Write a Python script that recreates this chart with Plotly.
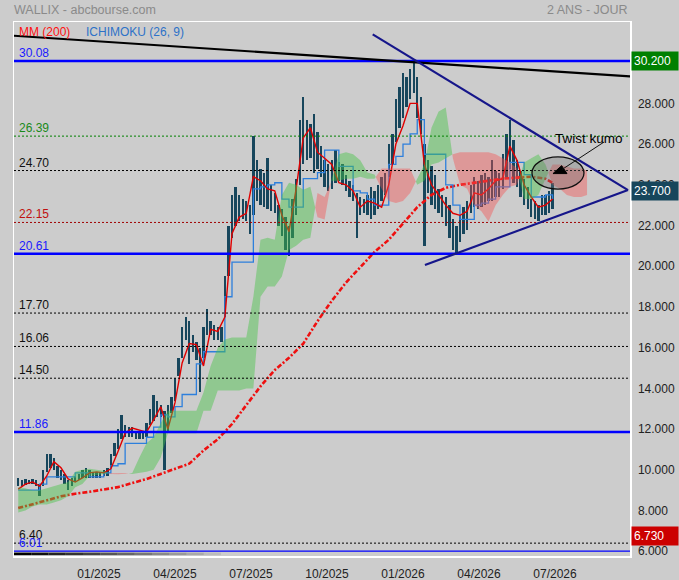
import plotly.graph_objects as go

# ---------------- data (x = trading-day index, 0 = first session of 01/2025) ----------------
tick_index = [0, 64, 128, 192, 256, 320, 384]
tick_labels = ["01/2025", "04/2025", "07/2025", "10/2025", "01/2026", "04/2026", "07/2026"]
price_ticks = [6, 8, 10, 12, 14, 16, 18, 20, 22, 24, 26, 28]

price_x = list(range(-68, 383, 3))
price_low = [9.2, 9.2, 9.25, 9.3, 9.3, 9.2, 8.7, 9.2, 9.9, 10.1,
             10.0, 9.6, 9.5, 9.3, 9.0, 9.2, 9.4, 9.5, 9.6, 9.6,
             9.6, 9.6, 9.6, 9.6, 9.7, 9.7, 10.1, 10.7, 11.0, 11.5,
             11.6, 11.6, 11.6, 11.5, 11.5, 11.5, 11.6, 12.2, 12.4, 12.6,
             12.6, 10.0, 11.8, 12.8, 13.4, 14.6, 15.5, 16.4, 15.2, 15.8,
             15.4, 13.8, 15.5, 16.6, 16.6, 16.4, 16.4, 16.3, 17.5, 19.5,
             21.4, 22.0, 22.2, 22.3, 22.2, 21.6, 22.5, 23.2, 23.0, 22.9,
             22.8, 22.7, 22.6, 22.0, 21.5, 20.8, 20.5, 21.4, 22.5, 24.0,
             25.0, 25.2, 25.3, 24.6, 24.8, 24.4, 23.9, 23.7, 23.8, 24.1,
             24.2, 24.0, 23.7, 23.4, 23.2, 21.4, 22.5, 22.6, 22.5, 22.3,
             22.5, 22.8, 23.2, 23.5, 24.4, 25.0, 26.1, 26.8, 27.3, 27.8,
             28.2, 28.5, 27.3, 26.5, 21.0, 23.6, 23.0, 22.8, 22.6, 22.4,
             22.0, 21.4, 20.8, 20.6, 21.2, 21.6, 21.8, 22.6, 22.9, 22.8,
             22.9, 23.0, 23.2, 23.2, 23.4, 23.4, 23.8, 24.3, 24.8, 24.1,
             23.9, 23.4, 23.0, 22.8, 22.4, 22.3, 22.2, 22.5, 22.5, 22.6,
             22.8]
price_high = [9.6, 9.5, 9.55, 9.5, 9.55, 9.5, 9.3, 10.0, 10.8, 10.8,
              10.6, 10.2, 10.0, 9.8, 9.5, 9.6, 9.7, 9.8, 10.0, 10.1,
              10.0, 9.9, 9.9, 9.9, 10.0, 10.1, 10.8, 11.3, 12.0, 12.7,
              12.2, 12.1, 12.1, 11.9, 11.9, 11.8, 12.3, 13.0, 13.7, 13.4,
              13.2, 12.9, 13.2, 13.6, 14.5, 15.5, 17.0, 17.5, 17.3, 16.6,
              16.3, 16.0, 17.0, 17.9, 17.3, 17.1, 17.0, 17.0, 19.5, 22.0,
              23.5, 23.9, 23.5, 23.3, 23.2, 23.0, 26.4, 25.2, 24.8, 24.6,
              25.3, 24.0, 23.6, 23.0, 22.8, 22.4, 22.0, 23.3, 24.3, 27.2,
              28.3, 27.2, 27.0, 27.5, 26.6, 25.9, 25.2, 25.0, 25.2, 25.7,
              25.1, 25.0, 24.5, 24.2, 24.0, 23.6, 23.4, 23.3, 23.5, 23.9,
              23.7, 24.0, 24.4, 24.6, 26.0, 26.5, 28.2, 28.8, 29.5, 29.3,
              29.7, 30.0, 29.3, 28.3, 26.0, 25.2, 24.9, 24.5, 23.8, 23.5,
              23.4, 23.0, 22.3, 22.0, 22.5, 22.9, 23.2, 24.0, 24.4, 24.2,
              24.5, 24.6, 24.4, 25.2, 24.7, 24.6, 25.5, 26.5, 27.2, 26.2,
              25.2, 24.7, 24.3, 23.9, 23.3, 23.2, 23.0, 23.5, 23.5, 23.7,
              24.1]

ichi_x = list(range(-68, 383, 6))
tenkan = [9.05, 9.3, 9.4, 9.2, 9.7, 10.4, 10.1, 9.55, 9.4, 9.6,
          9.85, 9.9, 9.85, 10.05, 10.9, 11.8, 12.05, 11.95, 11.85, 12.45,
          13.1, 12.0, 13.3, 15.25, 16.2, 16.15, 15.1, 16.9, 16.8, 17.5,
          21.6, 22.4, 22.6, 24.4, 24.2, 23.8, 23.7, 22.5, 21.7, 23.8,
          26.3, 26.8, 25.6, 25.3, 25.0, 24.1, 24.0, 23.7, 22.9, 23.2,
          23.1, 22.9, 24.0, 26.0, 26.9, 28.0, 28.0, 25.0, 24.0, 23.5,
          23.0, 22.6, 22.5, 22.7, 23.6, 23.5, 23.8, 24.2, 24.3, 25.9,
          25.2, 24.0, 23.4, 22.9, 23.0, 23.3]
kijun = [9.0, 9.0, 9.0, 9.3, 9.65, 9.65, 9.65, 9.65, 9.85, 9.85,
         9.65, 9.65, 9.85, 10.2, 10.3, 11.3, 11.3, 11.3, 11.6, 12.1,
         12.7, 12.6, 13.1, 13.7, 13.7, 15.2, 15.8, 15.8, 15.8, 18.5,
         20.2, 20.2, 20.2, 23.8, 23.9, 24.0, 24.1, 23.3, 22.9, 22.9,
         24.3, 24.3, 24.6, 25.7, 25.7, 24.9, 24.9, 23.7, 23.6, 23.3,
         23.0, 23.0, 25.0, 25.4, 26.0, 26.5, 27.2, 25.5, 25.5, 25.5,
         24.0, 23.0, 22.3, 22.3, 23.0, 23.1, 23.3, 23.9, 23.9, 25.1,
         25.1, 24.5, 23.4, 23.4, 23.5, 23.3]

cloud_x = list(range(-68, 407, 6)) + [411]
span_a = [9.15, 9.1, 9.0, 9.0, 9.1, 9.2, 9.3, 9.4, 9.9, 10.0,
          10.05, 10.0, 9.95, 9.8, 9.78, 9.8, 9.85, 10.6, 11.3, 11.6,
          12.3, 12.9, 12.9, 12.9, 12.9, 12.9, 13.8, 15.1, 16.0, 16.4,
          16.5, 16.5, 16.5, 18.5, 21.3, 21.4, 21.3, 23.5, 24.1, 24.0,
          23.75, 23.9, 22.4, 22.3, 24.3, 25.5, 25.6, 25.5, 25.2, 24.6,
          24.5, 23.8, 23.2, 23.1, 23.2, 23.6, 24.3, 25.0, 26.8, 27.6,
          27.8, 25.3, 24.0, 23.8, 23.0, 22.7, 22.2, 23.0, 23.5, 23.9,
          24.0, 25.1, 25.3, 25.5, 25.0, 24.0, 23.8, 23.5, 23.4, 23.4,
          23.5]
span_b = [7.9, 8.0, 8.2, 8.3, 8.3, 8.4, 8.5, 8.7, 9.15, 9.3,
          9.7, 9.75, 9.8, 9.85, 9.85, 9.85, 9.8, 9.85, 9.9, 10.0,
          10.6, 11.8, 11.8, 11.8, 11.8, 11.8, 12.9, 12.9, 13.9, 13.9,
          13.9, 13.9, 14.0, 14.0, 18.5, 19.0, 19.0, 19.5, 20.8, 21.0,
          21.3, 21.4, 23.6, 23.4, 24.2, 24.2, 24.3, 24.3, 24.4, 24.3,
          24.3, 24.8, 24.8, 24.8, 24.8, 24.8, 24.0, 24.2, 25.0, 25.1,
          25.3, 25.5, 25.6, 25.6, 25.6, 25.6, 25.6, 25.5, 25.3, 25.1,
          24.8, 23.3, 23.3, 23.5, 24.3, 25.0, 25.0, 24.9, 24.8, 24.8,
          24.7]

mm200_x = list(range(-68, 377, 12)) + [382]
mm200 = [8.12, 8.3, 8.5, 8.7, 8.83, 8.92, 9.05, 9.15, 9.35, 9.55,
         9.8, 10.05, 10.3, 10.95, 11.5, 12.25, 13.2, 14.1, 14.9, 15.5,
         16.2, 17.3, 18.3, 19.2, 19.95, 20.7, 21.3, 22.1, 22.9, 23.5,
         23.85, 24.0, 24.1, 24.2, 24.3, 24.35, 24.4, 24.3, 24.1]

levels = [30.08, 26.39, 24.70, 22.15, 20.61, 17.70, 16.06, 14.50, 11.86, 6.40, 6.01]
level_labels = ["30.08", "26.39", "24.70", "22.15", "20.61", "17.70", "16.06", "14.50", "11.86", "6.40", "6.01"]
level_colors = ["#0000ff", "#008000", "#000000", "#a00000", "#0000ff", "#000000",
                "#000000", "#000000", "#0000ff", "#000000", "#0000ff"]
level_text_colors = ["#1a1aff", "#1a8a1a", "#111111", "#c01010", "#1a1aff", "#111111",
                     "#111111", "#111111", "#1a1aff", "#111111", "#1a1aff"]
level_kind = ["thick", "dot", "dot", "dot", "thick", "dot", "dot", "dot", "thick", "dot", "thin"]

# trendlines: (x0, y0, x1, y1, colour) in data units
trendlines = [(-71.6, 31.32, 447.2, 29.32, "#000000"),
              (230.5, 31.39, 445.5, 23.74, "#16168a"),
              (274.5, 20.06, 445.5, 23.74, "#16168a")]

last_price = 23.70
top_level = 30.20
low_level = 6.73
twist_ellipse = (364.6, 23.79, 408.4, 25.37)
twist_head = [(389.6, 24.94), (382.3, 24.55), (394.1, 24.55)]
twist_arrow = (425.3, 26.10, 389.9, 24.75)
twist_text = (412.6, 26.25)

X_RANGE = [-71.58, 447.16]
Y_RANGE = [5.768, 31.995]

FONT = "Liberation Sans, Arial, sans-serif"

fig = go.Figure()

# price bars (high-low)
fig.add_trace(go.Bar(x=price_x, y=[h - l for h, l in zip(price_high, price_low)], base=price_low,
                     width=2.0, marker=dict(color="#17465c", line=dict(width=0)),
                     hoverinfo="skip"))

# MM200
fig.add_trace(go.Scatter(x=mm200_x, y=mm200, mode="lines",
                         line=dict(color="#ee1010", width=2.6, dash="5px,2px,2px,2px"),
                         hoverinfo="skip"))
# Kijun / Tenkan
fig.add_trace(go.Scatter(x=ichi_x, y=kijun, mode="lines", line=dict(color="#2d7fdc", width=1.3, shape="hv"),
                         hoverinfo="skip"))
fig.add_trace(go.Scatter(x=ichi_x, y=tenkan, mode="lines", line=dict(color="#e00000", width=1.4),
                         hoverinfo="skip"))


# cloud (kumo), split where span A crosses span B
def cloud_pieces(xs, a, b):
    pieces = []
    cx, ca, cb = [xs[0]], [a[0]], [b[0]]
    sign = a[0] >= b[0]
    for k in range(1, len(xs)):
        s = a[k] >= b[k]
        if s != sign:
            d0 = a[k - 1] - b[k - 1]
            d1 = a[k] - b[k]
            t = d0 / (d0 - d1)
            xc = xs[k - 1] + t * (xs[k] - xs[k - 1])
            yc = a[k - 1] + t * (a[k] - a[k - 1])
            cx.append(xc); ca.append(yc); cb.append(yc)
            pieces.append((sign, cx, ca, cb))
            cx, ca, cb = [xc], [yc], [yc]
            sign = s
        cx.append(xs[k]); ca.append(a[k]); cb.append(b[k])
    pieces.append((sign, cx, ca, cb))
    return pieces


for green, px_, pa, pb in cloud_pieces(cloud_x, span_a, span_b):
    fig.add_trace(go.Scatter(x=px_ + px_[::-1], y=pa + pb[::-1], mode="lines", fill="toself",
                             line=dict(width=0),
                             fillcolor="rgba(70,195,70,0.45)" if green else "rgba(245,80,80,0.42)",
                             hoverinfo="skip"))

shapes = []
annotations = []

for v, lab, col, tcol, kind in zip(levels, level_labels, level_colors, level_text_colors, level_kind):
    if kind == "thick":
        ln = dict(color=col, width=2.4)
    elif kind == "thin":
        ln = dict(color=col, width=1.2)
    else:
        ln = dict(color=col, width=1, dash="2px,2px")
    shapes.append(dict(type="line", xref="paper", x0=0, x1=1, yref="y", y0=v, y1=v, line=ln, layer="above"))
    annotations.append(dict(xref="paper", x=0, xanchor="left", xshift=3, yref="y", y=v, yanchor="bottom",
                            yshift=-1, text=lab, showarrow=False,
                            font=dict(family=FONT, size=12, color=tcol)))

for x0, y0, x1, y1, c in trendlines:
    shapes.append(dict(type="line", x0=x0, y0=y0, x1=x1, y1=y1, xref="x", yref="y",
                       line=dict(color=c, width=2.2), layer="above"))

# twist kumo ellipse + arrow
e = twist_ellipse
shapes.append(dict(type="circle", x0=e[0], y0=e[1], x1=e[2], y1=e[3], xref="x", yref="y",
                   fillcolor="rgba(110,110,110,0.35)", line=dict(color="#111111", width=1.3), layer="above"))
h = twist_head
shapes.append(dict(type="path", xref="x", yref="y",
                   path="M %f %f L %f %f L %f %f Z" % (h[0][0], h[0][1], h[1][0], h[1][1], h[2][0], h[2][1]),
                   fillcolor="#000000", line=dict(color="#000000", width=1), layer="above"))
a = twist_arrow
shapes.append(dict(type="line", x0=a[0], y0=a[1], x1=a[2], y1=a[3], xref="x", yref="y",
                   line=dict(color="#111111", width=1), layer="above"))
annotations.append(dict(x=twist_text[0], y=twist_text[1], xref="x", yref="y", text="Twist kumo",
                        showarrow=False, font=dict(family=FONT, size=13.5, color="#000000")))

# fading black bar at bottom-left
for k in range(12):
    shapes.append(dict(type="line", xref="paper", yref="paper", x0=k * 0.028, x1=(k + 1) * 0.028,
                       y0=0.004, y1=0.004, line=dict(color="rgba(0,0,0,%.2f)" % (1 - k / 12.0), width=2.5),
                       layer="above"))

# right-hand value boxes
for val, bg in ((top_level, "#008000"), (last_price, "#17465c"), (low_level, "#cc0000")):
    annotations.append(dict(xref="paper", x=1.0, xanchor="left", xshift=1, yref="y",
                            y=30.08 if val == top_level else val, yanchor="middle",
                            text="%.3f" % val, showarrow=False, bgcolor=bg, borderpad=2,
                            width=42, align="left",
                            font=dict(family=FONT, size=12, color="#ffffff")))

# titles / legend
annotations.append(dict(xref="paper", yref="paper", x=0, y=1, xanchor="left", yanchor="bottom", yshift=3,
                        xshift=-2, text="WALLIX - abcbourse.com", showarrow=False,
                        font=dict(family=FONT, size=12.5, color="#8a8a8a")))
annotations.append(dict(xref="paper", yref="paper", x=1, y=1, xanchor="right", yanchor="bottom", yshift=3,
                        text="2 ANS - JOUR", showarrow=False,
                        font=dict(family=FONT, size=12.5, color="#8a8a8a")))
annotations.append(dict(xref="paper", yref="paper", x=0, y=1, xanchor="left", yanchor="top", xshift=3, yshift=-1,
                        text="MM (200)", showarrow=False, font=dict(family=FONT, size=12, color="#ff1010")))
annotations.append(dict(xref="paper", yref="paper", x=0, y=1, xanchor="left", yanchor="top", xshift=70,
                        yshift=-1, text="ICHIMOKU (26, 9)", showarrow=False,
                        font=dict(family=FONT, size=12, color="#2d72c8")))

fig.update_layout(
    width=679, height=580,
    margin=dict(l=14, r=49, t=22, b=24, autoexpand=False),
    paper_bgcolor="#cccccc", plot_bgcolor="#cccccc",
    showlegend=False, bargap=0,
    shapes=shapes, annotations=annotations,
    font=dict(family=FONT, size=12, color="#222222"),
    xaxis=dict(range=X_RANGE, tickvals=tick_index, ticktext=tick_labels, showgrid=False, zeroline=False,
               showline=True, linecolor="#ffffff", linewidth=1.5, mirror=True, ticks="", automargin=False,
               ticklabelstandoff=6, tickfont=dict(family=FONT, size=12, color="#222222")),
    yaxis=dict(range=Y_RANGE, side="right", tickvals=price_ticks, ticktext=["%.3f" % t for t in price_ticks],
               showgrid=False, zeroline=False, showline=True, linecolor="#ffffff", linewidth=1.5, mirror=True,
               ticks="", automargin=False, ticklabelstandoff=4,
               tickfont=dict(family=FONT, size=12, color="#222222")),
)

fig.write_html("out.html", config={"displayModeBar": False, "staticPlot": True},
               post_script="document.body.style.margin='0px';document.body.style.background='#cccccc';")
